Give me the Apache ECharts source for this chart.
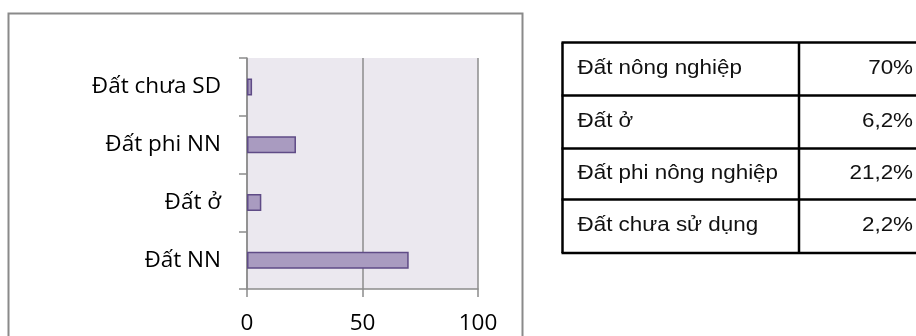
<!DOCTYPE html>
<html>
<head>
<meta charset="utf-8">
<script src="https://cdn.jsdelivr.net/npm/echarts@6/dist/echarts.min.js"></script>
<style>
  html, body { margin: 0; padding: 0; background: #fff; }
  #chart { width: 916px; height: 336px; }
</style>
</head>
<body>
<div id="chart"></div>
<script>
// Land-use shares (%), bottom-to-top order of the bar chart
const categories = ['Đất NN', 'Đất ở', 'Đất phi NN', 'Đất chưa SD'];
const shares = [70, 6.2, 21.2, 2.2];
// Full names shown in the side table, same order as shares
const tableNames = ['Đất nông nghiệp', 'Đất ở', 'Đất phi nông nghiệp', 'Đất chưa sử dụng'];
const axisTicks = [0, 50, 100];

const chart = echarts.init(document.getElementById('chart'), null, { renderer: 'canvas' });

const fmtPct = v => String(v).replace('.', ',') + '%';

// Side table geometry
const tLeft = 562.5, tDiv = 799, tRight = 918;
const rowLines = [42.5, 95.5, 148.5, 199.5, 253];
const stretch = 1.12;
const tableText = { font: '20px "Liberation Sans", Arial, sans-serif', fill: '#111', verticalAlign: 'middle' };

const graphics = [
  // chart frame
  {
    type: 'rect', silent: true, z: -1,
    shape: { x: 8.5, y: 13.5, width: 514, height: 340 },
    style: { fill: 'none', stroke: '#8a8a8a', lineWidth: 2 }
  }
];

rowLines.forEach(y => {
  graphics.push({
    type: 'line', silent: true,
    shape: { x1: tLeft - 1, y1: y, x2: tRight, y2: y },
    style: { stroke: '#000', lineWidth: 2.5 }
  });
});
[tLeft, tDiv].forEach(x => {
  graphics.push({
    type: 'line', silent: true,
    shape: { x1: x, y1: rowLines[0], x2: x, y2: rowLines[rowLines.length - 1] },
    style: { stroke: '#000', lineWidth: 2.5 }
  });
});

tableNames.forEach((name, i) => {
  const yc = (rowLines[i] + rowLines[i + 1]) / 2 - 1;
  graphics.push({
    type: 'text', silent: true, x: 577.5, y: yc, scaleX: stretch,
    style: Object.assign({ text: name, align: 'left' }, tableText)
  });
  graphics.push({
    type: 'text', silent: true, x: 913, y: yc, scaleX: stretch,
    style: Object.assign({ text: fmtPct(shares[i]), align: 'right' }, tableText)
  });
});

const labelFont = { fontFamily: '"Open Sans", sans-serif', fontSize: 22.5, color: '#000' };
const axisGray = '#8c8c8c';

chart.setOption({
  animation: false,
  backgroundColor: '#fff',
  grid: {
    left: 247, top: 58, right: 916 - 478, bottom: 336 - 289,
    show: true, backgroundColor: '#ebe8ef', borderWidth: 0
  },
  xAxis: {
    type: 'value',
    min: axisTicks[0], max: axisTicks[axisTicks.length - 1], interval: axisTicks[1] - axisTicks[0],
    axisLine: { show: true, lineStyle: { color: axisGray, width: 1.5 } },
    axisTick: { show: true, length: 8, lineStyle: { color: axisGray, width: 1.5 } },
    splitLine: { show: true, lineStyle: { color: axisGray, width: 1.5 } },
    axisLabel: Object.assign({ margin: 23 }, labelFont)
  },
  yAxis: {
    type: 'category',
    data: categories,
    axisLine: { show: true, lineStyle: { color: axisGray, width: 1.5 } },
    axisTick: { show: true, length: 8, lineStyle: { color: axisGray, width: 1.5 } },
    splitLine: { show: false },
    axisLabel: Object.assign({ margin: 26 }, labelFont)
  },
  series: [{
    type: 'bar',
    data: shares,
    barWidth: 17,
    itemStyle: { color: '#a99bc0', borderColor: '#5f4b86', borderWidth: 1.5 }
  }],
  graphic: graphics
});
</script>
</body>
</html>
